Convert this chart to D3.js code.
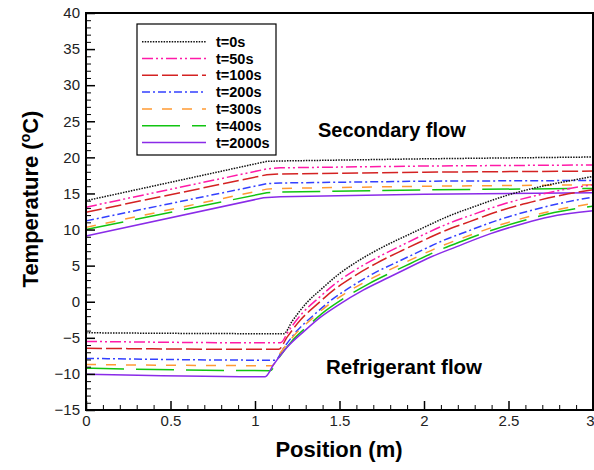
<!DOCTYPE html>
<html>
<head>
<meta charset="utf-8">
<script src="https://cdn.jsdelivr.net/npm/d3@7"></script>
<style>
  html, body { margin: 0; padding: 0; background: #fff; }
  svg { display: block; font-family: "Liberation Sans", Arial, sans-serif; }
</style>
</head>
<body>
<svg id="chart" width="594" height="470"></svg>
<script>
// Series labels and styles
const seriesNames = ["t=0s", "t=50s", "t=100s", "t=200s", "t=300s", "t=400s", "t=2000s"];
const seriesColors = ["#111111", "#ff1aa8", "#d42222", "#3340ff", "#ff9a33", "#11c411", "#8a2be8"];
const seriesDash = ["1.5,1.2", "11,3,2,3,2,3", "16,4", "8,3,2,3", "10,10", "38,12", null];

// Secondary flow temperature [position (m), temperature (°C)]
const secondary0 = [[0, 14.0], [1.07, 19.45], [1.15, 19.5], [2.0, 19.8], [3.0, 20.05]];
const secondary50 = [[0, 13.1], [1.07, 18.4], [1.15, 18.55], [2.0, 18.8], [3.0, 18.95]];
const secondary100 = [[0, 12.4], [1.07, 17.6], [1.15, 17.7], [2.0, 17.95], [3.0, 18.1]];
const secondary200 = [[0, 11.2], [1.07, 16.35], [1.15, 16.45], [2.0, 16.7], [3.0, 16.8]];
const secondary300 = [[0, 10.3], [1.07, 15.6], [1.15, 15.7], [2.0, 16.0], [3.0, 16.2]];
const secondary400 = [[0, 10.0], [1.07, 15.1], [1.15, 15.2], [2.0, 15.5], [3.0, 15.7]];
const secondary2000 = [[0, 9.1], [1.05, 14.4], [1.15, 14.55], [2.0, 14.9], [3.0, 15.1]];

// Refrigerant flow temperature [position (m), temperature (°C)]
const refrigerant0 = [[0, -4.3], [1.17, -4.43], [1.22, -2.7], [1.3, -0.3], [1.4, 1.9], [1.5, 3.9], [1.6, 5.5], [1.75, 7.5], [1.9, 9.2], [2.0, 10.3], [2.15, 11.9], [2.3, 13.2], [2.5, 14.8], [2.7, 16.0], [2.85, 16.7], [3.0, 17.35]];
const refrigerant50 = [[0, -5.5], [1.15, -5.7], [1.2, -4.0], [1.28, -1.6], [1.38, 0.6], [1.48, 2.6], [1.58, 4.2], [1.73, 6.2], [1.88, 7.95], [1.98, 9.1], [2.13, 10.7], [2.28, 12.0], [2.48, 13.6], [2.68, 14.8], [2.83, 15.55], [3.0, 16.2]];
const refrigerant100 = [[0, -6.45], [1.14, -6.6], [1.19, -4.9], [1.27, -2.5], [1.37, -0.3], [1.47, 1.7], [1.57, 3.3], [1.72, 5.35], [1.87, 7.1], [1.97, 8.2], [2.12, 9.8], [2.27, 11.1], [2.47, 12.75], [2.67, 14.0], [2.82, 14.8], [3.0, 15.5]];
const refrigerant200 = [[0, -7.85], [1.12, -8.1], [1.17, -6.4], [1.25, -4.0], [1.35, -1.8], [1.45, 0.2], [1.55, 1.8], [1.7, 3.9], [1.85, 5.6], [1.95, 6.7], [2.1, 8.35], [2.25, 9.7], [2.45, 11.4], [2.65, 12.75], [2.8, 13.6], [3.0, 14.5]];
const refrigerant300 = [[0, -8.7], [1.1, -8.86], [1.15, -7.1], [1.23, -4.7], [1.33, -2.5], [1.43, -0.5], [1.53, 1.1], [1.68, 3.1], [1.83, 4.8], [1.93, 5.9], [2.08, 7.5], [2.23, 8.85], [2.43, 10.5], [2.63, 11.85], [2.78, 12.7], [3.0, 13.6]];
const refrigerant400 = [[0, -9.2], [1.09, -9.55], [1.14, -7.8], [1.22, -5.4], [1.32, -3.2], [1.42, -1.2], [1.52, 0.4], [1.67, 2.45], [1.82, 4.2], [1.92, 5.3], [2.07, 6.95], [2.22, 8.35], [2.42, 10.05], [2.62, 11.45], [2.77, 12.35], [3.0, 13.25]];
const refrigerant2000 = [[0, -10.05], [1.06, -10.4], [1.11, -8.7], [1.19, -6.3], [1.29, -4.1], [1.39, -2.1], [1.49, -0.5], [1.64, 1.6], [1.79, 3.35], [1.89, 4.5], [2.04, 6.2], [2.19, 7.6], [2.39, 9.4], [2.59, 10.85], [2.74, 11.75], [3.0, 12.6]];

const secondarySeries = [secondary0, secondary50, secondary100, secondary200, secondary300, secondary400, secondary2000];
const refrigerantSeries = [refrigerant0, refrigerant50, refrigerant100, refrigerant200, refrigerant300, refrigerant400, refrigerant2000];

// Axis ticks
const xTicks = [0, 0.5, 1, 1.5, 2, 2.5, 3];
const xTickLabels = ["0", "0.5", "1", "1.5", "2", "2.5", "3"];
const yTicks = [-15, -10, -5, 0, 5, 10, 15, 20, 25, 30, 35, 40];

const svg = d3.select("#chart");
const plotLeft = 86, plotRight = 593, plotTop = 13, plotBottom = 410;

const x = d3.scaleLinear().domain([0, 3]).range([plotLeft, plotRight]);
const y = d3.scaleLinear().domain([-15, 40]).range([plotBottom, plotTop]);

// Curves: straight segments for the secondary side, smooth for the refrigerant side
const straight = d3.line().x(d => x(d[0])).y(d => y(d[1]));
const smooth = d3.line().x(d => x(d[0])).y(d => y(d[1])).curve(d3.curveMonotoneX);
const plot = svg.append("g");
[[secondarySeries, straight], [refrigerantSeries, smooth]].forEach(([group, gen]) => {
  group.forEach((data, i) => {
    plot.append("path")
      .attr("d", gen(data))
      .attr("fill", "none")
      .attr("stroke", seriesColors[i])
      .attr("stroke-width", 1.5)
      .attr("stroke-dasharray", seriesDash[i]);
  });
});

// Frame
svg.append("rect")
  .attr("x", plotLeft).attr("y", plotTop)
  .attr("width", plotRight - plotLeft).attr("height", plotBottom - plotTop)
  .attr("fill", "none").attr("stroke", "#000").attr("stroke-width", 2);

// Bottom axis with inward ticks
const xAxis = d3.axisBottom(x).tickValues(xTicks)
  .tickFormat((d, i) => xTickLabels[i]).tickSize(-9).tickPadding(5);
const gx = svg.append("g").attr("transform", `translate(0,${plotBottom})`).call(xAxis);
gx.select(".domain").remove();
gx.selectAll(".tick line").attr("stroke", "#000").attr("stroke-width", 1.5);
gx.selectAll("text").attr("font-size", 15).attr("fill", "#222")
  .attr("font-family", "Liberation Sans, Arial, sans-serif");
// keep the last label inside the page edge
gx.selectAll("text").filter(d => d === 3).attr("text-anchor", "end").attr("x", 594 - x(3));
const xMinor = d3.axisBottom(x).tickValues(d3.range(0, 3.001, 0.1).filter(v => Math.abs(v * 2 - Math.round(v * 2)) > 1e-6))
  .tickSize(-5).tickFormat("");
const gxm = svg.append("g").attr("transform", `translate(0,${plotBottom})`).call(xMinor);
gxm.select(".domain").remove();
gxm.selectAll(".tick line").attr("stroke", "#000").attr("stroke-width", 1);

// Left axis with inward ticks
const yAxis = d3.axisLeft(y).tickValues(yTicks).tickSize(-9).tickPadding(6);
const gy = svg.append("g").attr("transform", `translate(${plotLeft},0)`).call(yAxis);
gy.select(".domain").remove();
gy.selectAll(".tick line").attr("stroke", "#000").attr("stroke-width", 1.5);
gy.selectAll("text").attr("font-size", 15).attr("fill", "#222")
  .attr("font-family", "Liberation Sans, Arial, sans-serif");
const yMinor = d3.axisLeft(y).tickValues(d3.range(-15, 40.001, 1).filter(v => v % 5 !== 0))
  .tickSize(-5).tickFormat("");
const gym = svg.append("g").attr("transform", `translate(${plotLeft},0)`).call(yMinor);
gym.select(".domain").remove();
gym.selectAll(".tick line").attr("stroke", "#000").attr("stroke-width", 1);

// Axis titles
svg.append("text")
  .attr("x", 339).attr("y", 457)
  .attr("text-anchor", "middle").attr("font-size", 22).attr("font-weight", "bold")
  .text("Position (m)");
const yTitle = svg.append("text")
  .attr("transform", "translate(38,199) rotate(-90)")
  .attr("text-anchor", "middle").attr("font-size", 22).attr("font-weight", "bold");
yTitle.append("tspan").text("Temperature (");
yTitle.append("tspan").attr("font-size", 14).attr("dy", -8).text("o");
yTitle.append("tspan").attr("dy", 8).text("C)");

// Annotations
svg.append("text").attr("x", 318).attr("y", 137)
  .attr("font-size", 20).attr("font-weight", "bold").text("Secondary flow");
svg.append("text").attr("x", 326).attr("y", 374)
  .attr("font-size", 20.5).attr("font-weight", "bold").text("Refrigerant flow");

// Legend
const legend = svg.append("g");
legend.append("rect")
  .attr("x", 137).attr("y", 24).attr("width", 139).attr("height", 131)
  .attr("fill", "#fff").attr("stroke", "#000").attr("stroke-width", 1.2);
seriesNames.forEach((name, i) => {
  const ly = 41.7 + i * 16.8;
  legend.append("line")
    .attr("x1", 142).attr("x2", 206).attr("y1", ly).attr("y2", ly)
    .attr("stroke", seriesColors[i]).attr("stroke-width", 1.5)
    .attr("stroke-dasharray", seriesDash[i]);
  legend.append("text")
    .attr("x", 216).attr("y", ly + 5)
    .attr("font-size", 14.5).attr("font-weight", "bold").text(name);
});
</script>
</body>
</html>
